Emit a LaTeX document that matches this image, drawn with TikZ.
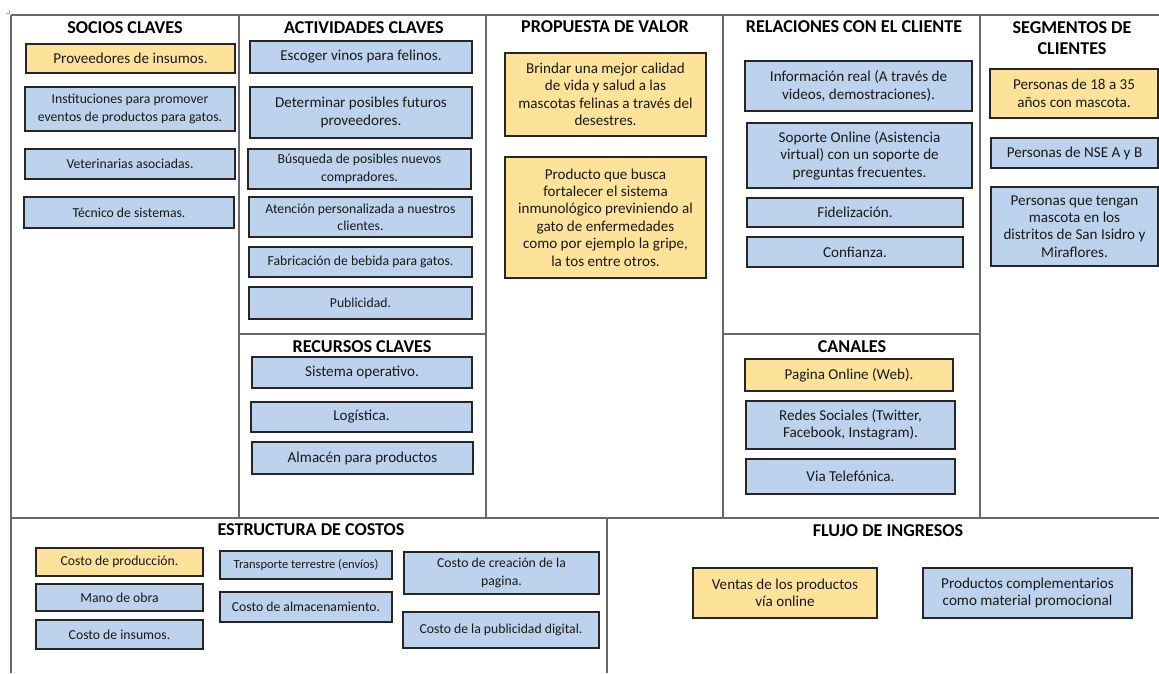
\documentclass[tikz,border=0pt]{standalone}
\usepackage{fontspec}
\setmainfont{Carlito}
\definecolor{cardblue}{RGB}{189,210,236}
\definecolor{cardgold}{RGB}{253,227,154}
\definecolor{framegray}{RGB}{105,105,105}

\tikzset{
  card/.style={draw=black!85, line width=0.6pt, inner sep=0pt, align=center, text=black!90},
  bluecard/.style={card, fill=cardblue},
  goldcard/.style={card, fill=cardgold},
  normtext/.style={font=\fontsize{8.6}{9.9}\selectfont},
  smalltext/.style={font=\fontsize{7.8}{9.9}\selectfont},
  tinytext/.style={font=\fontsize{7.1}{9}\selectfont},
  heading/.style={font=\fontsize{10.3}{11.9}\selectfont\bfseries, align=center, inner sep=0pt},
  frameline/.style={draw=framegray, line width=0.9pt},
}

% \card{name}{x1}{y1}{x2}{y2}{style}{text}: a card between two corners (pixel units)
\newcommand\card[7]{%
  \node[#6, minimum width={(#4-#2)*0.02cm}, minimum height={(#5-#3)*0.02cm}]
    (#1) at ({(#2+#4)/2},{(#3+#5)/2}) {#7};}

\begin{document}
\begin{tikzpicture}[x=0.02cm, y=-0.02cm]
\useasboundingbox (0,0) rectangle (1159,673);

% canvas grid
\draw[frameline] (11,15) -- (1159,15);
\draw[frameline] (11,15) -- (11,673);
\draw[frameline] (239,15) -- (239,518);
\draw[frameline] (486,15) -- (486,518);
\draw[frameline] (723,15) -- (723,518);
\draw[frameline] (980,15) -- (980,518);
\draw[frameline] (239,334) -- (486,334);
\draw[frameline] (723,334) -- (980,334);
\draw[frameline] (11,518) -- (1159,518);
\draw[frameline] (607,518) -- (607,673);
\draw[draw=black!35, line width=0.4pt] (6,13) -- (9,13) -- (9,10);

% headings
\node[heading] (hsoc) at (125,28) {SOCIOS CLAVES};
\node[heading] (hact) at (364,28) {ACTIVIDADES CLAVES};
\node[heading] (hpro) at (605,27) {PROPUESTA DE VALOR};
\node[heading] (hrel) at (854,27) {RELACIONES CON EL CLIENTE};
\node[heading] (hseg) at (1072,38.5) {SEGMENTOS DE\\CLIENTES};
\node[heading] (hrec) at (362,347) {RECURSOS CLAVES};
\node[heading] (hcan) at (852,347) {CANALES};
\node[heading] (hcos) at (311,530) {ESTRUCTURA DE COSTOS};
\node[heading] (hing) at (888,531) {FLUJO DE INGRESOS};

% socios claves
\card{prov}{26}{44}{235}{73}{goldcard,normtext}{Proveedores de insumos.}
\card{inst}{25}{87}{235}{131}{bluecard,smalltext}{Instituciones para promover\\eventos de productos para gatos.}
\card{vet}{25}{149}{235}{179}{bluecard,smalltext}{Veterinarias asociadas.}
\card{tec}{24}{197}{234}{228}{bluecard,smalltext}{Técnico de sistemas.}

% actividades claves
\card{esc}{250}{41}{472}{73}{bluecard,normtext}{Escoger vinos para felinos.}
\card{det}{250}{87}{472}{138}{bluecard,normtext}{Determinar posibles futuros\\proveedores.}
\card{bus}{248}{149}{471}{189}{bluecard,smalltext}{Búsqueda de posibles nuevos\\compradores.}
\card{ate}{249}{197}{472}{237}{bluecard,smalltext}{Atención personalizada a nuestros\\clientes.}
\card{fab}{249}{247}{472}{277}{bluecard,smalltext}{Fabricación de bebida para gatos.}
\card{pub}{249}{287}{472}{319}{bluecard,smalltext}{Publicidad.}

% propuesta de valor
\card{brin}{505}{53}{706}{136}{goldcard,normtext}{Brindar una mejor calidad\\de vida y salud a las\\mascotas felinas a través del\\desestres.}
\card{prod}{505}{157}{706}{278}{goldcard,normtext}{Producto que busca\\fortalecer el sistema\\inmunológico previniendo al\\gato de enfermedades\\como por ejemplo la gripe,\\la tos entre otros.}

% relaciones con el cliente
\card{info}{745}{61}{972}{111}{bluecard,normtext}{Información real (A través de\\videos, demostraciones).}
\card{sop}{747}{123}{972}{188}{bluecard,normtext}{Soporte Online (Asistencia\\virtual) con un soporte de\\preguntas frecuentes.}
\card{fid}{747}{198}{963}{227}{bluecard,normtext}{Fidelización.}
\card{conf}{747}{237}{963}{267}{bluecard,normtext}{Confianza.}

% segmentos de clientes
\card{edad}{990}{69}{1158}{118}{goldcard,normtext}{Personas de 18 a 35\\años con mascota.}
\card{nse}{991}{138}{1158}{168}{bluecard,normtext}{Personas de NSE A y B}
\card{dist}{991}{187}{1158}{266}{bluecard,normtext}{Personas que tengan\\mascota en los\\distritos de San Isidro y\\Miraflores.}

% recursos claves
\card{sis}{252}{357}{472}{388}{bluecard,normtext}{Sistema operativo.}
\card{logi}{251}{402}{472}{432}{bluecard,normtext}{Logística.}
\card{almp}{252}{442}{473}{474}{bluecard,normtext}{Almacén para productos}

% canales
\card{web}{745}{359}{953}{391}{goldcard,normtext}{Pagina Online (Web).}
\card{redes}{746}{401}{955}{449}{bluecard,normtext}{Redes Sociales (Twitter,\\Facebook, Instagram).}
\card{tel}{746}{459}{955}{494}{bluecard,normtext}{Via Telefónica.}

% estructura de costos
\card{cprod}{36}{548}{203}{576}{goldcard,smalltext}{Costo de producción.}
\card{mano}{36}{584}{203}{611}{bluecard,smalltext}{Mano de obra}
\card{cins}{36}{620}{203}{649}{bluecard,smalltext}{Costo de insumos.}
\card{trans}{220}{551}{392}{579}{bluecard,tinytext}{Transporte terrestre (envíos)}
\card{calm}{220}{592}{392}{622}{bluecard,smalltext}{Costo de almacenamiento.}
\card{cweb}{404}{552}{599}{594}{bluecard,smalltext}{Costo de creación de la\\pagina.}
\card{cpub}{403}{612}{599}{648}{bluecard,smalltext}{Costo de la publicidad digital.}

% flujo de ingresos
\card{ventas}{693}{568}{877}{618}{goldcard,normtext}{Ventas de los productos\\vía online}
\card{compl}{923}{568}{1132}{618}{bluecard,normtext}{Productos complementarios\\como material promocional}
\end{tikzpicture}
\end{document}
